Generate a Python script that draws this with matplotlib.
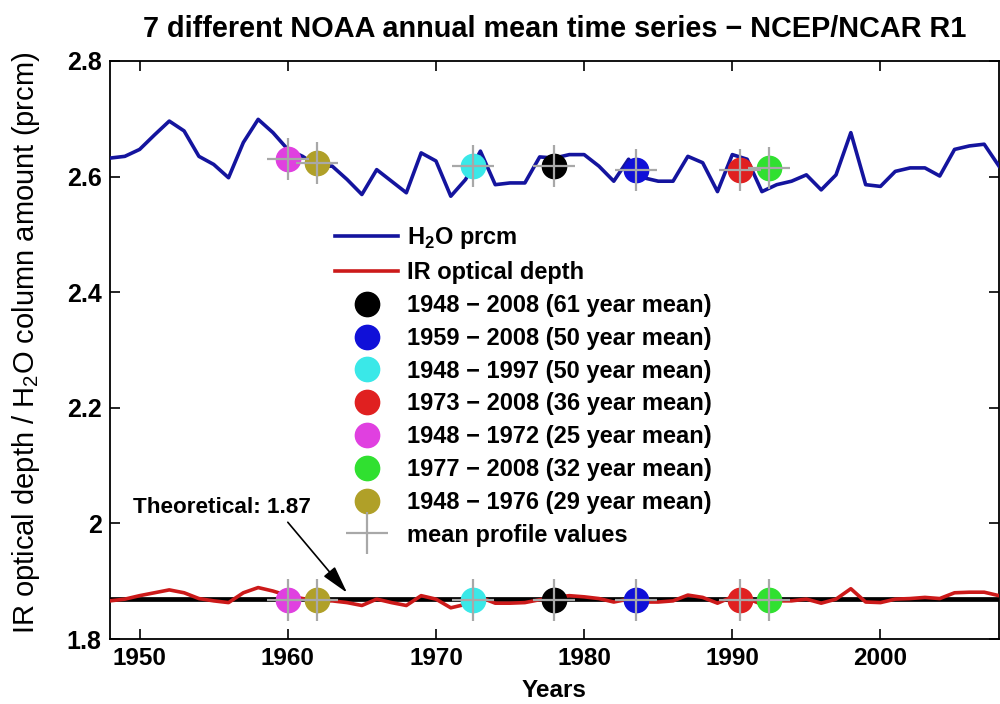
import matplotlib
matplotlib.use("Agg")
import matplotlib.pyplot as plt

years = list(range(1948, 2009))
h2o_prcm = [2.632, 2.635, 2.647, 2.672, 2.696, 2.679, 2.635, 2.621, 2.598, 2.659,
            2.699, 2.676, 2.647, 2.635, 2.618, 2.618, 2.595, 2.569, 2.612, 2.592,
            2.572, 2.641, 2.627, 2.566, 2.595, 2.644, 2.586, 2.589, 2.589, 2.634,
            2.632, 2.638, 2.638, 2.618, 2.592, 2.630, 2.598, 2.592, 2.592, 2.635,
            2.624, 2.574, 2.638, 2.630, 2.574, 2.586, 2.592, 2.603, 2.577, 2.603,
            2.676, 2.586, 2.583, 2.609, 2.615, 2.615, 2.601, 2.647, 2.653, 2.656,
            2.618]
ir_depth = [1.866, 1.869, 1.875, 1.880, 1.885, 1.880, 1.870, 1.866, 1.863, 1.880,
            1.889, 1.883, 1.875, 1.870, 1.866, 1.866, 1.863, 1.858, 1.869, 1.863,
            1.858, 1.875, 1.869, 1.854, 1.860, 1.872, 1.862, 1.862, 1.863, 1.868,
            1.872, 1.875, 1.873, 1.870, 1.864, 1.869, 1.864, 1.864, 1.866, 1.876,
            1.872, 1.862, 1.873, 1.870, 1.860, 1.866, 1.866, 1.869, 1.862, 1.869,
            1.887, 1.864, 1.863, 1.869, 1.870, 1.872, 1.870, 1.880, 1.881, 1.881,
            1.875]
theoretical = 1.87

period_labels = ["1948 \u2212 2008 (61 year mean)", "1959 \u2212 2008 (50 year mean)",
                 "1948 \u2212 1997 (50 year mean)", "1973 \u2212 2008 (36 year mean)",
                 "1948 \u2212 1972 (25 year mean)", "1977 \u2212 2008 (32 year mean)",
                 "1948 \u2212 1976 (29 year mean)"]
period_mid = [1978.0, 1983.5, 1972.5, 1990.5, 1960.0, 1992.5, 1962.0]
period_h2o = [2.619, 2.612, 2.618, 2.612, 2.630, 2.615, 2.624]
period_ir = [1.868, 1.868, 1.868, 1.868, 1.868, 1.868, 1.868]
period_colors = ["#000000", "#1010d8", "#3ae8e8", "#e02020", "#e040e0", "#30e030", "#b0a028"]

xticks = [1950, 1960, 1970, 1980, 1990, 2000]
yticks = [1.8, 2.0, 2.2, 2.4, 2.6, 2.8]
ytick_labels = ["1.8", "2", "2.2", "2.4", "2.6", "2.8"]

plt.rcParams['mathtext.fontset'] = 'custom'
plt.rcParams['mathtext.rm'] = 'Liberation Sans'
plt.rcParams['mathtext.bf'] = 'Liberation Sans:bold'
plt.rcParams['font.family'] = ['Liberation Sans', 'DejaVu Sans']

fig = plt.figure(figsize=(10, 7.04), dpi=100)
ax = fig.add_axes([0.11, 0.0923, 0.889, 0.8211])

ax.plot(years, h2o_prcm, color="#14149e", lw=2.6, label=r"H$_\mathbf{2}$O prcm", zorder=3)
ax.plot(years, ir_depth, color="#cc1a1a", lw=2.6, label="IR optical depth", zorder=3)
ax.axhline(theoretical, color="black", lw=3.4, zorder=2)

for m, h, r, c, lab in zip(period_mid, period_h2o, period_ir, period_colors, period_labels):
    ax.plot([m, m], [h, r], ls="none", marker="o", ms=17.5, mfc=c, mec=c, label=lab, zorder=4)

ax.plot(period_mid + period_mid, period_h2o + period_ir, ls="none", marker="+", ms=30,
        mew=1.6, color="#a8a8a8", label="mean profile values", zorder=5)

ax.set_xlim(1948, 2008)
ax.set_ylim(1.8, 2.8)
ax.set_xticks(xticks)
ax.set_xticklabels([str(t) for t in xticks], fontweight="bold", fontsize=17.5)
ax.set_yticks(yticks)
ax.set_yticklabels(ytick_labels, fontweight="bold", fontsize=18)
ax.tick_params(direction="in", length=7, width=1.2, top=True, right=True, pad=6)
for s in ax.spines.values():
    s.set_linewidth(1.3)

ax.set_title("7 different NOAA annual mean time series \u2212 NCEP/NCAR R1",
             fontweight="bold", fontsize=20.8, pad=17)
ax.set_xlabel("Years", fontweight="bold", fontsize=17.5, labelpad=6)
ax.set_ylabel(r"IR optical depth / H$_2$O column amount (prcm)", fontsize=21)
ax.yaxis.set_label_coords(-0.077, 0.512)

ax.text(1949.55, 2.027, "Theoretical: 1.87", fontweight="bold", fontsize=16.2,
        va="center", ha="left")
ax.annotate("", xy=(1964.0, 1.880), xytext=(1960.0, 2.002),
            arrowprops=dict(arrowstyle="-|>,head_length=1.7,head_width=0.45",
                            color="black", lw=1.2, shrinkA=0, shrinkB=0))

ax.legend(loc="upper left", bbox_to_anchor=(0.2535, 0.7155), frameon=False,
          prop=dict(weight="bold", size=17),
          handlelength=2.67, labelspacing=0.415, handletextpad=0.35, borderpad=0,
          borderaxespad=0)

fig.savefig("out.png", dpi=100)
